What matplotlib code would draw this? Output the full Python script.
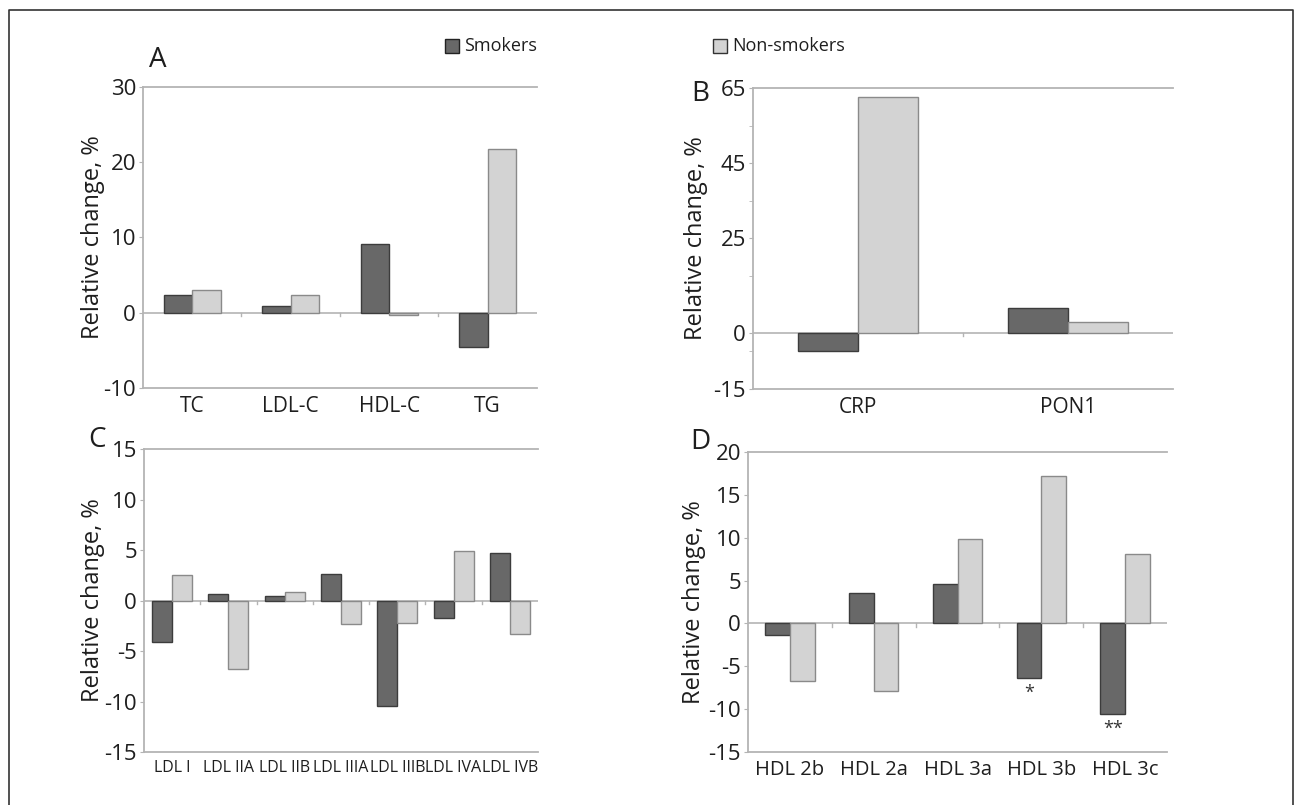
import numpy as np
import matplotlib
matplotlib.use("Agg")
from matplotlib import pyplot as plt
from matplotlib.patches import Rectangle
from matplotlib.lines import Line2D

plt.rcParams["font.family"] = ["Open Sans", "DejaVu Sans"]
plt.rcParams["axes.unicode_minus"] = False

# panel A
lipid_labels = ["TC", "LDL-C", "HDL-C", "TG"]
lipid_smokers = [2.4, 0.9, 9.1, -4.6]
lipid_nonsmokers = [3.0, 2.35, -0.3, 21.8]

# panel B
inflam_labels = ["CRP", "PON1"]
inflam_smokers = [-4.8, 6.5]
inflam_nonsmokers = [62.6, 2.8]

# panel C
ldl_labels = ["LDL I", "LDL IIA", "LDL IIB", "LDL IIIA", "LDL IIIB", "LDL IVA", "LDL IVB"]
ldl_smokers = [-4.1, 0.6, 0.45, 2.6, -10.4, -1.7, 4.7]
ldl_nonsmokers = [2.55, -6.8, 0.85, -2.3, -2.2, 4.95, -3.35]

# panel D
hdl_labels = ["HDL 2b", "HDL 2a", "HDL 3a", "HDL 3b", "HDL 3c"]
hdl_smokers = [-1.3, 3.55, 4.6, -6.4, -10.6]
hdl_nonsmokers = [-6.7, -7.9, 9.8, 17.2, 8.1]
hdl_sig = ["", "", "", "*", "**"]

DARK = "#686868"
DARK_EDGE = "#3c3c3c"
LIGHT = "#d3d3d3"
LIGHT_EDGE = "#8a8a8a"
AXIS = "#b4b4b4"
TXT = "#1e1e1e"

fig = plt.figure(figsize=(12.95, 8.05), dpi=100)


def panel(rect, labels, smokers, nonsmokers, ylim, yticks, width, ylab_x,
          minor=None, xsize=15):
    ax = fig.add_axes(rect)
    x = np.arange(len(labels))
    ax.bar(x - width / 2, smokers, width, color=DARK, edgecolor=DARK_EDGE, linewidth=1.0, zorder=3)
    ax.bar(x + width / 2, nonsmokers, width, color=LIGHT, edgecolor=LIGHT_EDGE, linewidth=1.0, zorder=3)
    ax.set_xlim(-0.5, len(labels) - 0.5)
    ax.set_ylim(*ylim)
    ax.axhline(0, color=AXIS, lw=1.2, zorder=2)
    d = (ylim[1] - ylim[0]) * 0.012
    for b in x[:-1] + 0.5:
        ax.plot([b, b], [0, -d], color=AXIS, lw=1.0, zorder=2)
    ax.set_yticks(yticks)
    if minor is not None:
        ax.set_yticks(minor, minor=True)
        ax.tick_params(axis="y", which="minor", length=3, color=AXIS)
    ax.set_xticks(x)
    ax.set_xticklabels(labels)
    ax.tick_params(axis="y", which="major", length=3, color=AXIS, labelsize=16,
                   labelcolor=TXT, pad=2)
    ax.tick_params(axis="x", length=0, labelsize=xsize, labelcolor=TXT, pad=6)
    for s in ["left", "top", "bottom"]:
        ax.spines[s].set_color(AXIS)
        ax.spines[s].set_linewidth(1.3)
    ax.spines["right"].set_visible(False)
    ax.set_ylabel("Relative change, %", fontsize=17, color=TXT)
    ax.yaxis.set_label_coords(ylab_x, 0.5)
    return ax


panel([0.1104, 0.518, 0.3042, 0.374], lipid_labels, lipid_smokers, lipid_nonsmokers,
      (-10, 30), [-10, 0, 10, 20, 30], 0.29, -0.097)

panel([0.5815, 0.5168, 0.3243, 0.374], inflam_labels, inflam_smokers, inflam_nonsmokers,
      (-15, 65), [-15, 0, 25, 45, 65], 0.286, -0.107, minor=[-5, 15, 35, 55])

panel([0.1112, 0.0658, 0.3042, 0.3764], ldl_labels, ldl_smokers, ldl_nonsmokers,
      (-15, 15), [-15, -10, -5, 0, 5, 10, 15], 0.355, -0.099, xsize=11.5)

axd = panel([0.5776, 0.0658, 0.3236, 0.3727], hdl_labels, hdl_smokers, hdl_nonsmokers,
            (-15, 20), [-15, -10, -5, 0, 5, 10, 15, 20], 0.295, -0.1, xsize=14.5)
for i, (v, s) in enumerate(zip(hdl_smokers, hdl_sig)):
    if s:
        axd.text(i - 0.295 / 2, v - 0.6, s, ha="center", va="top", fontsize=13,
                 color="#333333")

# panel letters
for letter, (px, py) in zip("ABCD", [(158, 60), (700, 94), (97, 440), (700, 442)]):
    fig.text(px / 1295, 1 - py / 805, letter, ha="center", va="center", fontsize=20, color=TXT)

# legend
for (sx, label, fc, ec) in [(445, "Smokers", DARK, "#222222"),
                            (713, "Non-smokers", LIGHT, "#333333")]:
    fig.add_artist(Rectangle((sx / 1295, 1 - 53 / 805), 14 / 1295, 14 / 805,
                             transform=fig.transFigure, facecolor=fc, edgecolor=ec, lw=1.0))
    fig.text((sx + 19) / 1295, 1 - 46 / 805, label, ha="left", va="center", fontsize=13, color=TXT)

# outer frame
fx0, fx1, fy0 = 9 / 1295, 1293 / 1295, 1 - 10 / 805
fig.add_artist(Line2D([fx0, fx0, fx1, fx1], [0, fy0, fy0, 0], transform=fig.transFigure,
                      color="#333333", lw=1.2))

fig.savefig("out.png", dpi=100)
